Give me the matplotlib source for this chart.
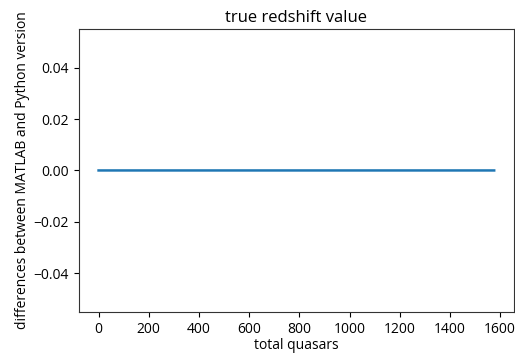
import numpy as np
import matplotlib
matplotlib.use('Agg')
import matplotlib.pyplot as plt

# differences between MATLAB and Python redshift per quasar (all zero)
nQuasars = 1577
differences = np.zeros(nQuasars)
quasarIdx = np.arange(nQuasars)

plt.rcParams['font.family'] = ['Open Sans', 'DejaVu Sans']
plt.rcParams['font.size'] = 10
plt.rcParams['axes.edgecolor'] = '#333333'
fig = plt.figure(figsize=(5.15, 3.54), dpi=100)
ax = fig.add_axes([0.153, 0.119, 0.845, 0.799])
ax.plot(quasarIdx, differences, color='#1f77b4', lw=1.8)
ax.set_title('true redshift value', fontsize=12, pad=5)
ax.set_xlabel('total quasars', labelpad=1)
ax.set_ylabel('differences between MATLAB and Python version', labelpad=3)
ax.set_ylim(-0.055, 0.055)
ax.set_yticks([-0.04, -0.02, 0.0, 0.02, 0.04])
plt.savefig('out.png', dpi=100)
